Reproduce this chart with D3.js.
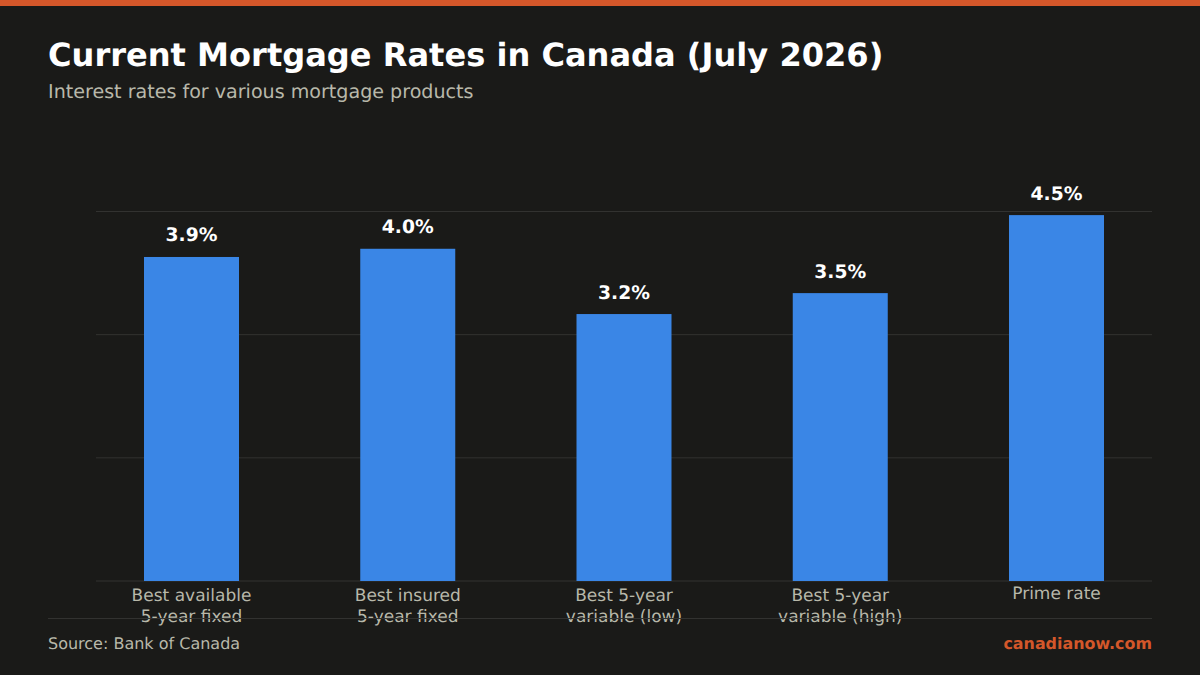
<!DOCTYPE html>
<html>
<head>
<meta charset="utf-8">
<title>Current Mortgage Rates in Canada (July 2026)</title>
<script src="https://cdn.jsdelivr.net/npm/d3@7"></script>
<style>
    html, body { margin: 0; padding: 0; background: #1a1a18; }
    svg { display: block; font-family: "DejaVu Sans", sans-serif; text-rendering: geometricPrecision; }
</style>
</head>
<body>
<svg id="chart" width="1200" height="675"></svg>
<script>
"use strict";

const categories = [
    ["Best available", "5-year fixed"],
    ["Best insured", "5-year fixed"],
    ["Best 5-year", "variable (low)"],
    ["Best 5-year", "variable (high)"],
    ["Prime rate"],
];
const rates = [3.94, 4.04, 3.245, 3.5, 4.45];
const rateTicks = [0, 1.5, 3, 4.5];

const ORANGE = "#d4572a";
const MUTED = "#b8b8aa";
const GRID = "#323230";

const svg = d3.select("#chart");

svg.append("rect").attr("width", 1200).attr("height", 6).attr("fill", ORANGE);

svg.append("text").attr("x", 48).attr("y", 66)
    .attr("font-size", 32.1).attr("font-weight", "bold").attr("fill", "#ffffff")
    .text("Current Mortgage Rates in Canada (July 2026)");

svg.append("text").attr("x", 48).attr("y", 98)
    .attr("font-size", 19.1).attr("fill", MUTED)
    .text("Interest rates for various mortgage products");

const y = d3.scaleLinear().domain([0, 4.5]).range([580.5, 211]);
const x = d3.scaleBand()
    .domain(d3.range(categories.length))
    .range([144, 1104])
    .paddingInner(0.5607);

// gridlines, the axis itself has no labels
const yAxis = svg.append("g")
    .attr("transform", "translate(96,0)")
    .call(d3.axisLeft(y).tickValues(rateTicks).tickSize(-1056).tickFormat(""));
yAxis.select(".domain").remove();
yAxis.selectAll("line").attr("stroke", GRID);

svg.selectAll(".bar")
    .data(rates)
    .join("rect")
    .attr("class", "bar")
    .attr("x", (d, i) => x(i))
    .attr("width", x.bandwidth())
    .attr("y", d => y(d))
    .attr("height", d => y(0) - y(d) + 0.5)
    .attr("fill", "#3a86e6");

svg.selectAll(".value")
    .data(rates)
    .join("text")
    .attr("class", "value")
    .attr("x", (d, i) => x(i) + x.bandwidth() / 2)
    .attr("y", d => y(d) - 15.5)
    .attr("text-anchor", "middle")
    .attr("font-size", 18.7)
    .attr("font-weight", "bold")
    .attr("fill", "#ffffff")
    .text(d => d.toFixed(1) + "%");

const xAxis = svg.append("g")
    .attr("transform", "translate(0,581)")
    .call(d3.axisBottom(x).tickSize(0).tickFormat(""));
xAxis.select(".domain").remove();

xAxis.selectAll(".tick text")
    .attr("y", 0)
    .attr("dy", null)
    .attr("font-size", 17)
    .attr("font-family", "DejaVu Sans")
    .attr("fill", MUTED)
    .each(function (d) {
        const lines = categories[d];
        d3.select(this).selectAll("tspan")
            .data(lines)
            .join("tspan")
            .attr("x", 0)
            .attr("y", (line, i) => (lines.length > 1 ? 20 : 18) + i * 21)
            .text(line => line);
    });

svg.append("line")
    .attr("x1", 48).attr("x2", 1152).attr("y1", 618.5).attr("y2", 618.5)
    .attr("stroke", GRID);

svg.append("text").attr("x", 48).attr("y", 649)
    .attr("font-size", 16).attr("fill", MUTED)
    .text("Source: Bank of Canada");

svg.append("text").attr("x", 1152).attr("y", 649)
    .attr("text-anchor", "end")
    .attr("font-size", 15.9).attr("font-weight", "bold").attr("fill", ORANGE)
    .text("canadianow.com");
</script>
</body>
</html>
